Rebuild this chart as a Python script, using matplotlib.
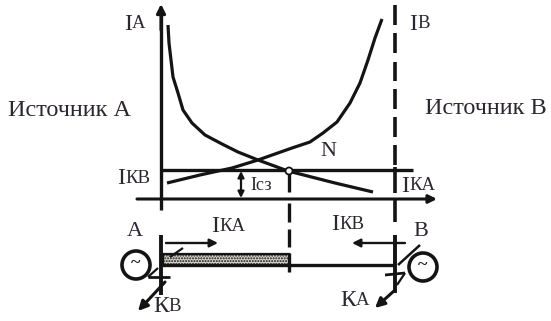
#!/usr/bin/env python3
"""Relay protection diagram: current curves from sources A and B over a line."""

import matplotlib

matplotlib.use("Agg")
import matplotlib.pyplot as plt
from matplotlib.patches import Circle, Rectangle

INK = "#141414"
TEXT = "#2c2630"

CURVE_A_X = [168, 169, 171, 173, 178, 183, 192, 205, 222, 238, 253, 258, 288, 335, 373]
CURVE_A_Y = [25, 43, 60, 77, 93, 110, 123, 135, 144, 152, 158, 160, 171, 183, 192]
CURVE_B_X = [167, 200, 232, 258, 292, 310, 323, 337, 350, 360, 368, 375, 382]
CURVE_B_Y = [183, 175, 168, 160, 148, 142, 133, 122, 103, 83, 60, 38, 19]

RIGHT_DASHES = [(5, 25), (33, 53), (62, 81), (89, 109), (117, 137), (145, 165), (167, 193), (200, 222)]
MID_DASHES = [(172, 192), (203, 222), (229, 247), (253, 272)]

# big part, small part, x, y
LABELS = [
    ("I", "A", 124, 24),
    ("I", "B", 409, 24),
    ("I", "КВ", 117, 179),
    ("I", "КА", 401, 186),
    ("I", "КА", 211, 227),
    ("I", "КВ", 331, 225),
    ("К", "В", 153, 307),
    ("К", "А", 340, 301),
]
PLAIN = [
    ("Источник А", 8, 111, 17.5),
    ("Источник В", 425, 109, 17.5),
    ("N", 320, 151, 16),
    ("А", 127, 232, 16),
    ("В", 413, 232, 16),
]


def line(ax, xs, ys, lw=2.2, **kw):
    ax.plot(xs, ys, color=INK, lw=lw, solid_capstyle="butt", solid_joinstyle="round", **kw)


def arrow(ax, start, end, lw=1.6, size=11):
    ax.annotate(
        "",
        xy=end,
        xytext=start,
        arrowprops=dict(
            arrowstyle="-|>",
            color=INK,
            lw=lw,
            mutation_scale=size,
            shrinkA=0,
            shrinkB=0,
        ),
    )


def label(ax, big, small, x, y):
    t = ax.text(x, y, big, fontsize=17, color=TEXT, va="center", ha="left")
    ax.annotate(
        small,
        xy=(1, 0.1),
        xycoords=t,
        va="bottom",
        ha="left",
        fontsize=13.5,
        color=TEXT,
    )


def source(ax, x, y):
    ax.add_patch(Circle((x, y), 14, fc="white", ec=INK, lw=2.6, zorder=4))
    ax.text(x, y - 1, "~", ha="center", va="center", fontsize=13, weight="bold", color=INK, zorder=5)


def main():
    plt.rcParams["font.family"] = ["Liberation Serif", "DejaVu Serif"]
    fig = plt.figure(figsize=(5.51, 3.21), dpi=100)
    ax = fig.add_axes([0, 0, 1, 1])
    ax.set_xlim(0, 551)
    ax.set_ylim(321, 0)
    ax.axis("off")

    # axes and levels
    line(ax, [161, 161], [14, 210], lw=2.4)
    arrow(ax, (161, 30), (161, 4), lw=2.2, size=13)
    arrow(ax, (137, 199), (437, 199), lw=2.2, size=12)
    line(ax, [161, 413], [170, 170], lw=2.4)

    line(ax, CURVE_A_X, CURVE_A_Y, lw=2.3)
    line(ax, CURVE_B_X, CURVE_B_Y, lw=2.3)
    ax.add_patch(Circle((289, 171), 3.5, fc="white", ec=INK, lw=1.3, zorder=4))

    # dashed boundaries
    for top, bottom in RIGHT_DASHES:
        line(ax, [395, 395], [top, bottom], lw=2.6)
    for top, bottom in MID_DASHES:
        line(ax, [289, 289], [top, bottom], lw=2.4)
    line(ax, [161, 161], [235, 295], lw=2.8)
    line(ax, [395, 395], [235, 293], lw=2.8)

    # Ics marker
    ax.annotate(
        "",
        xy=(241, 171),
        xytext=(241, 198),
        arrowprops=dict(arrowstyle="<|-|>", color=INK, lw=1.6, mutation_scale=9, shrinkA=0, shrinkB=0),
    )
    ax.text(250, 186, "Iсз", fontsize=13, color=TEXT, va="center", ha="left")

    # bus and protected zone
    line(ax, [161, 395], [265, 265], lw=2.4)
    ax.add_patch(
        Rectangle((163, 254), 126, 11, fc="#d8d4cc", ec=INK, lw=1.6, hatch="......", zorder=2)
    )
    arrow(ax, (166, 243), (218, 243), lw=1.7, size=12)
    arrow(ax, (405, 243), (352, 243), lw=1.7, size=12)

    # sources and faults
    source(ax, 136, 265)
    source(ax, 423, 267)
    line(ax, [170, 183], [257, 248], lw=1.6)
    line(ax, [148, 170], [277, 277], lw=2.0)
    line(ax, [148, 158], [277, 268], lw=1.6)
    line(ax, [398, 420], [265, 245], lw=1.8)
    line(ax, [385, 405], [275, 273], lw=2.0)
    line(ax, [397, 405], [285, 273], lw=1.6)
    arrow(ax, (165, 282), (138, 311), lw=2.2, size=14)
    arrow(ax, (395, 290), (375, 308), lw=2.2, size=14)

    for big, small, x, y in LABELS:
        label(ax, big, small, x, y)
    for text, x, y, size in PLAIN:
        ax.text(x, y, text, fontsize=size, color=TEXT, va="center", ha="left")

    fig.savefig("out.png", dpi=100)
    plt.close(fig)


if __name__ == "__main__":
    main()
